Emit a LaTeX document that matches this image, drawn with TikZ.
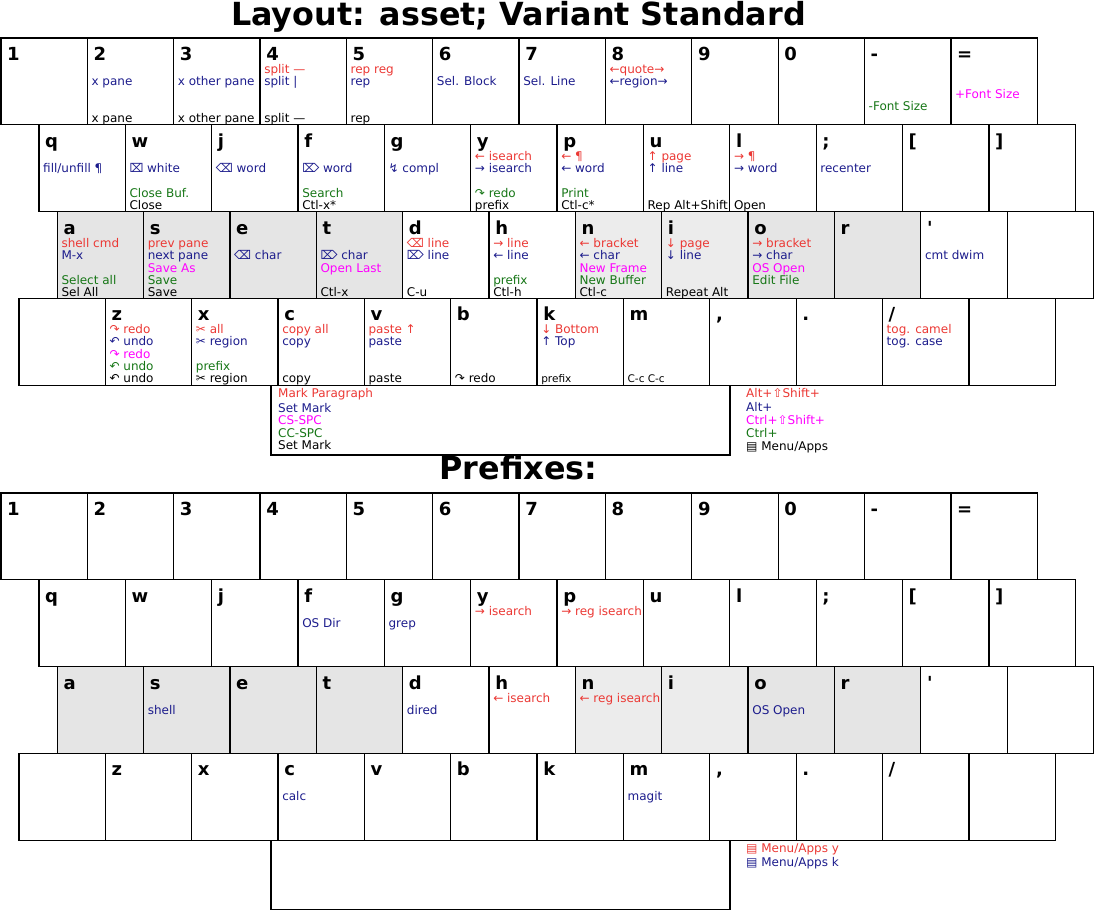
\documentclass[tikz,border=0pt]{standalone}
\usepackage{fontspec}
\setmainfont{DejaVu Sans}
\usetikzlibrary{positioning}

\definecolor{kred}{RGB}{235,56,52}
\definecolor{kblue}{RGB}{28,28,140}
\definecolor{kmag}{RGB}{255,0,255}
\definecolor{kgreen}{RGB}{22,118,22}
\definecolor{kgray}{RGB}{229,229,229}
\definecolor{klgray}{RGB}{236,236,236}

\begin{document}
\begin{tikzpicture}[x=1pt, y=-1pt,
  key/.style={draw=black, line width=1.3pt, anchor=north west, minimum width=86.35pt, minimum height=86.8pt, inner sep=0pt, outer sep=0pt},
  spacebar/.style={key, minimum width=459pt, minimum height=69.8pt},
  klab/.style={anchor=base west, inner sep=0pt, font=\fontsize{18}{20}\selectfont\bfseries, xshift=6pt, yshift=-22.5pt},
  ktext/.style={anchor=base west, inner sep=0pt, font=\fontsize{12}{13}\selectfont, xshift=4pt},
  ksmall/.style={font=\fontsize{10.5}{12}\selectfont},
  lred/.style={ktext, text=kred, yshift=-35.5pt},
  lblue/.style={ktext, text=kblue, yshift=-47.5pt},
  lmag/.style={ktext, text=kmag, yshift=-60.5pt},
  lgreen/.style={ktext, text=kgreen, yshift=-72.5pt},
  lblack/.style={ktext, text=black, yshift=-84.5pt},
  title/.style={anchor=base, inner sep=0pt, font=\fontsize{31.8}{33}\selectfont\bfseries}
]
\useasboundingbox (0,0) rectangle (1096,910);

\node[title] (title) at (518.5,25) {Layout: asset; Variant Standard};
\node[title] (ptitle) at (518.5,479) {Prefixes:};

% both keyboards, t = layout, p = prefixes
\foreach \kb/\yo in {t/0, p/455} {
  \foreach \lab [count=\i] in {1,2,3,4,5,6,7,8,9,0,-,=} {
    \node[key] (\kb-a\i) at ({1+(\i-1)*86.35}, {38+\yo}) {};
    \node[klab] at (\kb-a\i.north west) {\lab};
  }
  \foreach \lab [count=\i] in {q,w,j,f,g,y,p,u,l,;,{[},{]}} {
    \node[key] (\kb-b\i) at ({39+(\i-1)*86.35}, {124.8+\yo}) {};
    \node[klab] at (\kb-b\i.north west) {\lab};
  }
  \foreach \lab/\fc [count=\i] in {a/kgray, s/kgray, e/kgray, t/kgray, d/white, h/white, n/klgray, i/klgray, o/kgray, r/kgray, \textquotesingle/white, {}/white} {
    \node[key, fill=\fc] (\kb-c\i) at ({57.3+(\i-1)*86.35}, {211.6+\yo}) {};
    \node[klab] at (\kb-c\i.north west) {\lab};
  }
  \foreach \lab [count=\i] in {{},z,x,c,v,b,k,m,{,},.,/,{}} {
    \node[key] (\kb-d\i) at ({19+(\i-1)*86.35}, {298.4+\yo}) {};
    \node[klab] at (\kb-d\i.north west) {\lab};
  }
  \node[spacebar] (\kb-sp) at (271, {385.2+\yo}) {};
}

% number row
\node[lblue] at (t-a2.north west) {x pane};
\node[lblack] at (t-a2.north west) {x pane};
\node[lblue] at (t-a3.north west) {x other pane};
\node[lblack] at (t-a3.north west) {x other pane};
\node[lred] at (t-a4.north west) {split —};
\node[lblue] at (t-a4.north west) {split |};
\node[lblack] at (t-a4.north west) {split —};
\node[lred] at (t-a5.north west) {rep reg};
\node[lblue] at (t-a5.north west) {rep};
\node[lblack] at (t-a5.north west) {rep};
\node[lblue] at (t-a6.north west) {Sel. Block};
\node[lblue] at (t-a7.north west) {Sel. Line};
\node[lred] at (t-a8.north west) {←quote→};
\node[lblue] at (t-a8.north west) {←region→};
\node[lgreen] at (t-a11.north west) {-Font Size};
\node[lmag] at (t-a12.north west) {+Font Size};

% top row
\node[lblue] at (t-b1.north west) {fill/unfill ¶};
\node[lblue] at (t-b2.north west) {⌧ white};
\node[lgreen] at (t-b2.north west) {Close Buf.};
\node[lblack] at (t-b2.north west) {Close};
\node[lblue] at (t-b3.north west) {⌫ word};
\node[lblue] at (t-b4.north west) {⌦ word};
\node[lgreen] at (t-b4.north west) {Search};
\node[lblack] at (t-b4.north west) {Ctl-x*};
\node[lblue] at (t-b5.north west) {↯ compl};
\node[lred] at (t-b6.north west) {← isearch};
\node[lblue] at (t-b6.north west) {→ isearch};
\node[lgreen] at (t-b6.north west) {↷ redo};
\node[lblack] at (t-b6.north west) {prefix};
\node[lred] at (t-b7.north west) {← ¶};
\node[lblue] at (t-b7.north west) {← word};
\node[lgreen] at (t-b7.north west) {Print};
\node[lblack] at (t-b7.north west) {Ctl-c*};
\node[lred] at (t-b8.north west) {↑ page};
\node[lblue] at (t-b8.north west) {↑ line};
\node[lblack] at (t-b8.north west) {Rep Alt+Shift};
\node[lred] at (t-b9.north west) {→ ¶};
\node[lblue] at (t-b9.north west) {→ word};
\node[lblack] at (t-b9.north west) {Open};
\node[lblue] at (t-b10.north west) {recenter};

% home row
\node[lred] at (t-c1.north west) {shell cmd};
\node[lblue] at (t-c1.north west) {M-x};
\node[lgreen] at (t-c1.north west) {Select all};
\node[lblack] at (t-c1.north west) {Sel All};
\node[lred] at (t-c2.north west) {prev pane};
\node[lblue] at (t-c2.north west) {next pane};
\node[lmag] at (t-c2.north west) {Save As};
\node[lgreen] at (t-c2.north west) {Save};
\node[lblack] at (t-c2.north west) {Save};
\node[lblue] at (t-c3.north west) {⌫ char};
\node[lblue] at (t-c4.north west) {⌦ char};
\node[lmag] at (t-c4.north west) {Open Last};
\node[lblack] at (t-c4.north west) {Ctl-x};
\node[lred] at (t-c5.north west) {⌫ line};
\node[lblue] at (t-c5.north west) {⌦ line};
\node[lblack] at (t-c5.north west) {C-u};
\node[lred] at (t-c6.north west) {→ line};
\node[lblue] at (t-c6.north west) {← line};
\node[lgreen] at (t-c6.north west) {prefix};
\node[lblack] at (t-c6.north west) {Ctl-h};
\node[lred] at (t-c7.north west) {← bracket};
\node[lblue] at (t-c7.north west) {← char};
\node[lmag] at (t-c7.north west) {New Frame};
\node[lgreen] at (t-c7.north west) {New Buffer};
\node[lblack] at (t-c7.north west) {Ctl-c};
\node[lred] at (t-c8.north west) {↓ page};
\node[lblue] at (t-c8.north west) {↓ line};
\node[lblack] at (t-c8.north west) {Repeat Alt};
\node[lred] at (t-c9.north west) {→ bracket};
\node[lblue] at (t-c9.north west) {→ char};
\node[lmag] at (t-c9.north west) {OS Open};
\node[lgreen] at (t-c9.north west) {Edit File};
\node[lblue] at (t-c11.north west) {cmt dwim};

% bottom row
\node[lred] at (t-d2.north west) {↷ redo};
\node[lblue] at (t-d2.north west) {↶ undo};
\node[lmag] at (t-d2.north west) {↷ redo};
\node[lgreen] at (t-d2.north west) {↶ undo};
\node[lblack] at (t-d2.north west) {↶ undo};
\node[lred] at (t-d3.north west) {✂ all};
\node[lblue] at (t-d3.north west) {✂ region};
\node[lgreen] at (t-d3.north west) {prefix};
\node[lblack] at (t-d3.north west) {✂ region};
\node[lred] at (t-d4.north west) {copy all};
\node[lblue] at (t-d4.north west) {copy};
\node[lblack] at (t-d4.north west) {copy};
\node[lred] at (t-d5.north west) {paste ↑};
\node[lblue] at (t-d5.north west) {paste};
\node[lblack] at (t-d5.north west) {paste};
\node[lblack] at (t-d6.north west) {↷ redo};
\node[lred] at (t-d7.north west) {↓ Bottom};
\node[lblue] at (t-d7.north west) {↑ Top};
\node[lblack, ksmall] at (t-d7.north west) {prefix};
\node[lblack, ksmall] at (t-d8.north west) {C-c C-c};
\node[lred] at (t-d11.north west) {tog. camel};
\node[lblue] at (t-d11.north west) {tog. case};

% space bar and modifier legend
\node[ktext, text=kred, xshift=3pt, yshift=-12.5pt] at (t-sp.north west) {Mark Paragraph};
\node[ktext, text=kblue, xshift=3pt, yshift=-27pt] at (t-sp.north west) {Set Mark};
\node[ktext, text=kmag, xshift=3pt, yshift=-39.5pt] at (t-sp.north west) {CS-SPC};
\node[ktext, text=kgreen, xshift=3pt, yshift=-52pt] at (t-sp.north west) {CC-SPC};
\node[ktext, text=black, xshift=3pt, yshift=-64.5pt] at (t-sp.north west) {Set Mark};
\node[ktext, text=kred, xshift=12pt, yshift=-12.5pt] at (t-sp.north east) {Alt+⇧Shift+};
\node[ktext, text=kblue, xshift=12pt, yshift=-26.5pt] at (t-sp.north east) {Alt+};
\node[ktext, text=kmag, xshift=12pt, yshift=-39.5pt] at (t-sp.north east) {Ctrl+⇧Shift+};
\node[ktext, text=kgreen, xshift=12pt, yshift=-52pt] at (t-sp.north east) {Ctrl+};
\node[ktext, text=black, xshift=12pt, yshift=-65pt] at (t-sp.north east) {▤ Menu/Apps};

% prefixes
\node[lblue] at (p-b4.north west) {OS Dir};
\node[lblue] at (p-b5.north west) {grep};
\node[lred] at (p-b6.north west) {→ isearch};
\node[lred] at (p-b7.north west) {→ reg isearch};
\node[lblue] at (p-c2.north west) {shell};
\node[lblue] at (p-c5.north west) {dired};
\node[lred] at (p-c6.north west) {← isearch};
\node[lred] at (p-c7.north west) {← reg isearch};
\node[lblue] at (p-c9.north west) {OS Open};
\node[lblue] at (p-d4.north west) {calc};
\node[lblue] at (p-d8.north west) {magit};
\node[ktext, text=kred, xshift=12pt, yshift=-12.5pt] at (p-sp.north east) {▤ Menu/Apps y};
\node[ktext, text=kblue, xshift=12pt, yshift=-26.5pt] at (p-sp.north east) {▤ Menu/Apps k};
\end{tikzpicture}
\end{document}
